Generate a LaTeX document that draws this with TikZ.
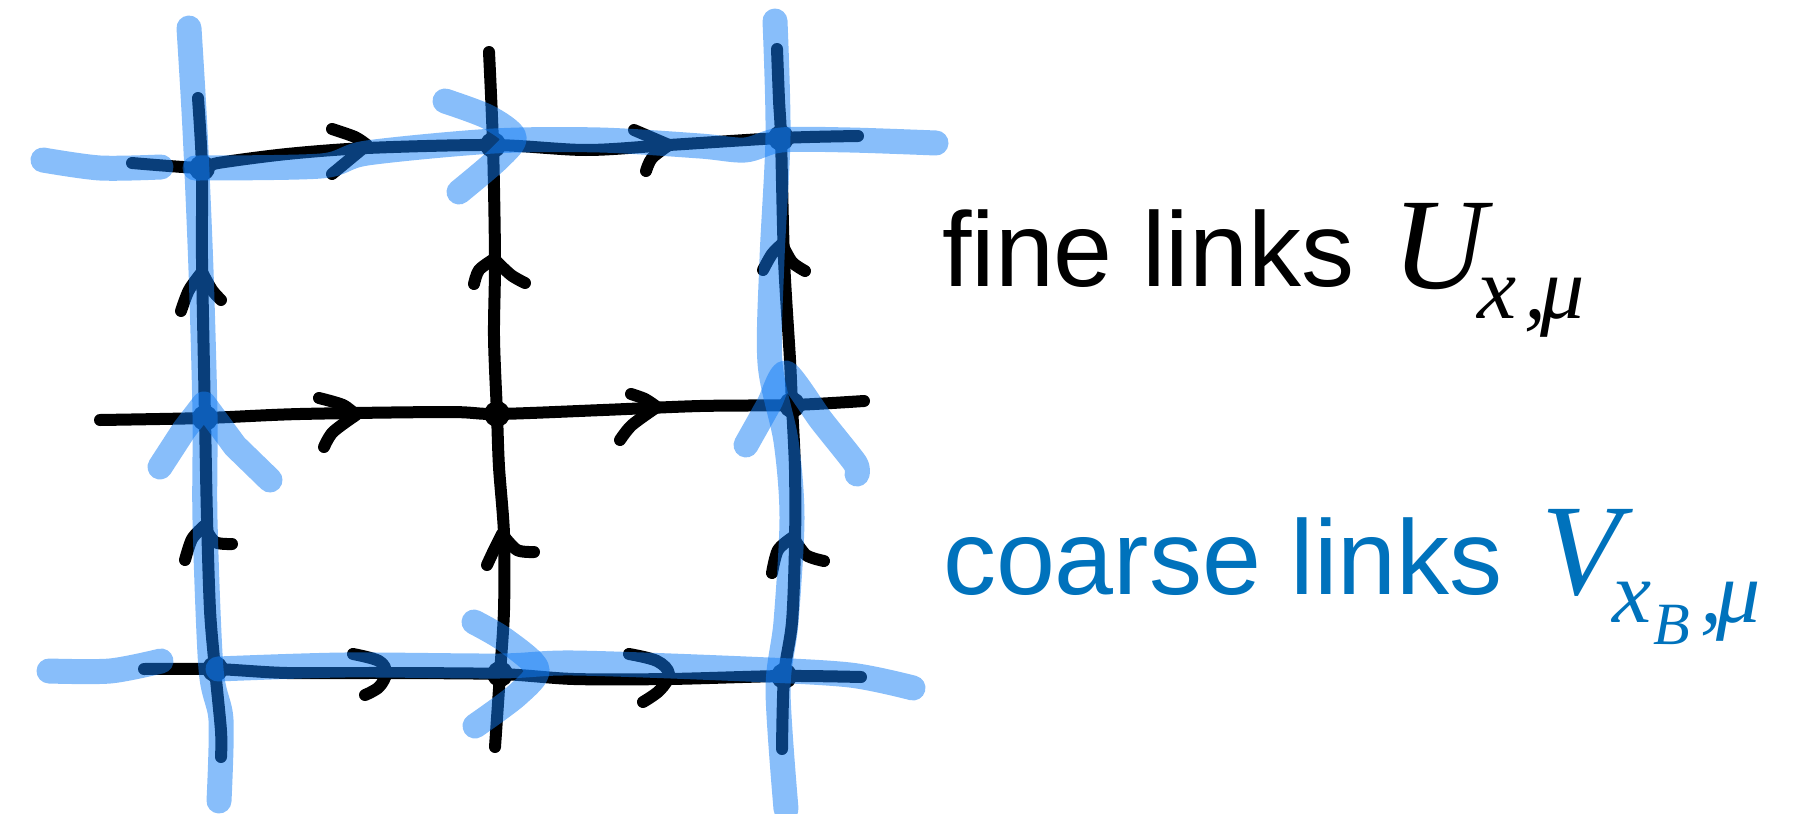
\documentclass[tikz,border=0pt]{standalone}
\usepackage{fontspec}
\newfontfamily\labsans{Liberation Sans}
\newfontfamily\labserif{Liberation Serif}
\definecolor{hl}{RGB}{18,125,245}
\definecolor{lab}{RGB}{0,114,188}
\begin{document}
\begin{tikzpicture}[x=0.5pt,y=-0.5pt,
  fine/.style={line width=6pt,line cap=round,line join=round,draw=black},
  coarse/.style={line width=12.5pt,line cap=round,line join=round,draw=hl,draw opacity=0.5},
  txt/.style={anchor=base west,inner sep=0pt,outer sep=0pt}]
\useasboundingbox (0,0) rectangle (1813,813);
% lattice sites
\coordinate (n11) at (202,168);
\coordinate (n12) at (493,145);
\coordinate (n13) at (781,138);
\coordinate (n21) at (205,418);
\coordinate (n22) at (497,414);
\coordinate (n23) at (792,405);
\coordinate (n31) at (215,669);
\coordinate (n32) at (500,674);
\coordinate (n33) at (784,676);
% free ends of the fine lines
\coordinate (t0) at (132,163);  \coordinate (t1) at (858,136);
\coordinate (m0) at (100,420);  \coordinate (m1) at (864,401);
\coordinate (b0) at (144,669);  \coordinate (b1) at (861,677);
\coordinate (l0) at (198,98);   \coordinate (l1) at (221,757);
\coordinate (c0) at (489,52);   \coordinate (c1) at (495,747);
\coordinate (r0) at (777,49);   \coordinate (r1) at (782,749);
% fine lattice lines
\draw[fine] plot[smooth,tension=0.5] coordinates {(t0) (n11) (218,163) (287,154) (367,148) (n12) (586,150) (669,145) (n13) (t1)};
\draw[fine] plot[smooth,tension=0.5] coordinates {(m0) (n21) (300,414) (448,412) (n22) (603,410) (700,406) (n23) (m1)};
\draw[fine] plot[smooth,tension=0.5] coordinates {(b0) (n31) (287,673) (385,673) (n32) (574,679) (669,679) (n33) (b1)};
\draw[fine] plot[smooth,tension=0.5] coordinates {(l0) (n11) (202,259) (n21) (207,518) (210,610) (n31) (221,731) (l1)};
\draw[fine] plot[smooth,tension=0.5] coordinates {(c0) (n12) (495,259) (494,337) (n22) (499,467) (504,534) (504,610) (n32) (c1)};
\draw[fine] plot[smooth,tension=0.5] coordinates {(r0) (779,100) (n13) (784,259) (790,360) (n23) (795,470) (795,544) (792,622) (n33) (r1)};
% fine arrowheads
\draw[fine] plot[smooth,tension=0.5] coordinates {(332,129) (355,137) (367,145)} -- (332,174);
\draw[fine] (634,130) -- (669,145) plot[smooth,tension=0.5] coordinates {(669,145) (652,158) (646,171)};
\draw[fine] plot[smooth,tension=0.5] coordinates {(319,398) (343,405) (356,415)} plot[smooth,tension=0.5] coordinates {(356,415) (333,432) (324,447)};
\draw[fine] plot[smooth,tension=0.5] coordinates {(631,394) (645,399) (657,407)} plot[smooth,tension=0.5] coordinates {(657,407) (632,425) (620,440)};
\draw[fine] plot[smooth,tension=0.6] coordinates {(353,654) (379,661) (386,673) (379,687) (365,695)};
\draw[fine] plot[smooth,tension=0.6] coordinates {(629,654) (657,661) (669,674) (660,690) (643,702)};
\draw[fine] plot[smooth,tension=0.5] coordinates {(181,311) (189,290) (202,272)} plot[smooth,tension=0.5] coordinates {(202,272) (212,290) (221,300)};
\draw[fine] plot[smooth,tension=0.5] coordinates {(185,560) (192,539) (204,526)} plot[smooth,tension=0.5] coordinates {(204,526) (215,542) (232,544)};
\draw[fine] plot[smooth,tension=0.5] coordinates {(474,284) (479,270) (494,259)} plot[smooth,tension=0.5] coordinates {(494,259) (511,275) (525,283)};
\draw[fine] plot[smooth,tension=0.5] coordinates {(487,565) (494,550) (502,534)} plot[smooth,tension=0.5] coordinates {(502,534) (517,550) (534,552)};
\draw[fine] plot[smooth,tension=0.5] coordinates {(763,270) (772,254) (782,244)} plot[smooth,tension=0.5] coordinates {(782,244) (792,262) (805,271)};
\draw[fine] plot[smooth,tension=0.5] coordinates {(772,573) (778,550) (793,537)} plot[smooth,tension=0.5] coordinates {(793,537) (806,555) (824,561)};
% site dots
\foreach \s in {n11,n12,n13,n21,n22,n23,n31,n32,n33}
  \fill[black] (\s) circle (6.5pt);
% coarse lines
\draw[coarse] plot[smooth,tension=0.5] coordinates {(43,160) (100,168) (161,167)};
\draw[coarse] plot[smooth,tension=0.5] coordinates {(195,168) (321,166) (367,153) (494,141) (600,140) (700,146) (745,150) (781,140) (850,140) (936,143)};
\draw[coarse] plot[smooth,tension=0.5] coordinates {(49,671) (110,671) (161,661)};
\draw[coarse] plot[smooth,tension=0.5] coordinates {(218,669) (344,665) (499,666) (574,663) (746,669) (850,675) (913,688)};
\draw[coarse] plot[smooth,tension=0.5] coordinates {(189,28) (195,130) (201,270) (205,415) (205,520) (211,669) (221,720) (219,801)};
\draw[coarse] plot[smooth,tension=0.5] coordinates {(775,21) (778,135) (772,259) (770,363) (786,441) (792,518) (786,622) (778,690) (786,809)};
% coarse arrowheads
\draw[coarse] plot[smooth,tension=0.5] coordinates {(445,101) (488,117) (514,137) (499,158) (459,192)};
\draw[coarse] plot[smooth,tension=0.5] coordinates {(474,622) (505,640) (537,669) (517,695) (475,726)};
\draw[coarse] (160,467) -- (184,430) -- (204,404) -- (235,446) -- (270,480);
\draw[coarse] plot[smooth,tension=0.4] coordinates {(746,445) (769,404) (786,373) (821,420) (855,463) (857,474)};
% labels
\node[txt,font=\labsans\fontsize{53}{60}\selectfont] (fine) at (942,286) {fine links};
\node[txt,font=\labserif\itshape\fontsize{65}{70}\selectfont] (U) at (1392,288) {U\kern-4pt\raisebox{-15pt}{\fontsize{44}{50}\selectfont x\kern4pt,\kern-3.5pt μ}};
\node[txt,text=lab,font=\labsans\fontsize{53}{60}\selectfont] (coarse) at (943,594) {coarse links};
\node[txt,text=lab,font=\labserif\itshape\fontsize{65}{70}\selectfont] (V) at (1541,594) {V\kern-4pt\raisebox{-14pt}{\fontsize{44}{50}\selectfont x\kern1pt\raisebox{-11pt}{\fontsize{30}{30}\selectfont B}\kern5pt,\kern-3pt μ}};
\end{tikzpicture}
\end{document}
